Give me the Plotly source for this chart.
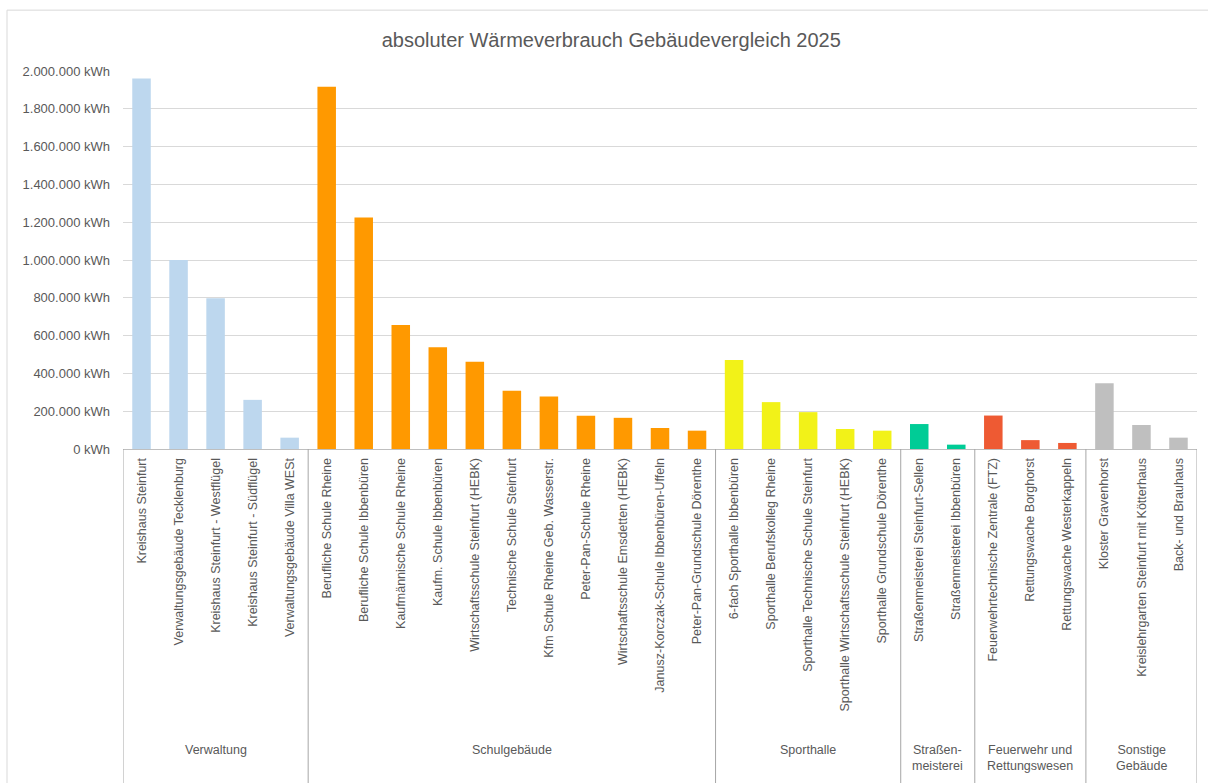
import plotly.graph_objects as go

categories = [
    "Kreishaus Steinfurt", "Verwaltungsgebäude Tecklenburg", "Kreishaus Steinfurt - Westflügel",
    "Kreishaus Steinfurt - Südflügel", "Verwaltungsgebäude Villa WESt",
    "Berufliche Schule Rheine", "Berufliche Schule Ibbenbüren", "Kaufmännische Schule Rheine",
    "Kaufm. Schule Ibbenbüren", "Wirtschaftsschule Steinfurt (HEBK)", "Technische Schule Steinfurt",
    "Kfm Schule Rheine Geb. Wasserstr.", "Peter-Pan-Schule Rheine", "Wirtschaftsschule Emsdetten (HEBK)",
    "Janusz-Korczak-Schule Ibbenbüren-Uffeln", "Peter-Pan-Grundschule Dörenthe",
    "6-fach Sporthalle Ibbenbüren", "Sporthalle Berufskolleg Rheine", "Sporthalle Technische Schule Steinfurt",
    "Sporthalle Wirtschaftsschule Steinfurt (HEBK)", "Sporthalle Grundschule Dörenthe",
    "Straßenmeisterei Steinfurt-Sellen", "Straßenmeisterei Ibbenbüren",
    "Feuerwehrtechnische Zentrale (FTZ)", "Rettungswache Borghorst", "Rettungswache Westerkappeln",
    "Kloster Gravenhorst", "Kreislehrgarten Steinfurt mit Kötterhaus", "Back- und Brauhaus",
]
values = [
    1960000, 1000000, 798000, 260000, 60000,
    1917000, 1225000, 656000, 538000, 462000, 308000, 278000, 176000, 165000, 111000, 97000,
    471000, 248000, 195000, 106000, 97000,
    132000, 23000,
    177000, 47000, 32000,
    348000, 127000, 60000,
]
groups = ["Verwaltung", "Schulgebäude", "Sporthalle", "Straßen-<br>meisterei",
          "Feuerwehr und<br>Rettungswesen", "Sonstige<br>Gebäude"]
group_sizes = [5, 11, 5, 2, 3, 3]
group_colors = ["#BDD7EE", "#FF9900", "#F2F218", "#00CC96", "#EE5A33", "#BFBFBF"]

y_ticks = list(range(0, 2000001, 200000))
y_tick_labels = ["{:,}".format(v).replace(",", ".") + " kWh" for v in y_ticks]

bar_colors = []
for c, n in zip(group_colors, group_sizes):
    bar_colors += [c] * n

fig = go.Figure()
fig.add_trace(go.Bar(
    x=categories, y=values, marker=dict(color=bar_colors, line=dict(width=0)),
    hoverinfo="x+y",
))

shapes = []
annotations = []
start = 0
bounds = [-0.5]
for g, n in zip(groups, group_sizes):
    center = start + (n - 1) / 2
    annotations.append(dict(
        x=center, xref="x", y=-0.772, yref="paper", text=g, showarrow=False,
        xanchor="center", yanchor="top", align="center",
        font=dict(family="Liberation Sans", size=12.5, color="#595959"),
    ))
    start += n
    bounds.append(start - 0.5)
for b in bounds:
    shapes.append(dict(type="line", xref="x", yref="paper", x0=b, x1=b, y0=0, y1=-0.95,
                       line=dict(color="#A6A6A6", width=1)))
# chart border
shapes.append(dict(type="rect", xref="paper", yref="paper", x0=-0.108, x1=1.05, y0=1.161, y1=-1.0,
                   line=dict(color="#D9D9D9", width=1)))

fig.update_layout(
    width=1208, height=783,
    margin=dict(l=123, r=11, t=71, b=334, autoexpand=False),
    paper_bgcolor="white", plot_bgcolor="white",
    title=dict(text="absoluter Wärmeverbrauch Gebäudevergleich 2025", x=0.506, xanchor="center",
               y=0.949, yanchor="middle", yref="container",
               font=dict(family="Liberation Sans", size=20, color="#595959")),
    font=dict(family="Liberation Sans", color="#595959"),
    bargap=0.5,
    showlegend=False,
    shapes=shapes,
    annotations=annotations,
    xaxis=dict(type="category", range=[-0.5, len(categories) - 0.5], tickangle=-90,
               showline=True, linecolor="#BFBFBF", linewidth=1, ticks="", showgrid=False,
               tickfont=dict(family="Liberation Sans", size=12.5, color="#595959"),
               automargin=False, ticklabelstandoff=3),
    yaxis=dict(range=[0, 2000000], tickmode="array", tickvals=y_ticks, ticktext=y_tick_labels,
               showgrid=True, gridcolor="#D9D9D9", gridwidth=1, zeroline=False, ticks="",
               tickfont=dict(family="Liberation Sans", size=13, color="#595959"),
               automargin=False, ticklabelstandoff=12),
)

fig.write_html("out.html", config={"displayModeBar": False},
               post_script="document.body.style.margin='0';")
